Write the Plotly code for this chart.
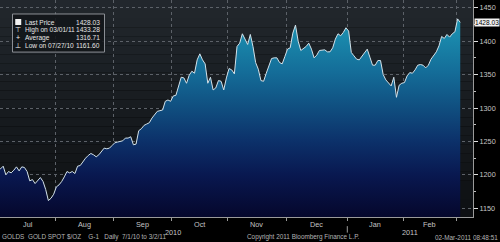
import numpy as np
import pandas as pd
import plotly.graph_objects as go

# ---------------- data ----------------
dates = pd.bdate_range("2010-07-01", "2011-03-02")

jul = [1207, 1209, 1213, 1200, 1205, 1203, 1207, 1212, 1206, 1212, 1211, 1205, 1191, 1193, 1187,
       1192, 1196, 1190, 1178, 1161.6, 1165, 1171]
aug = [1182, 1185, 1190, 1197, 1205, 1203, 1205, 1202, 1213, 1214, 1220, 1225, 1229, 1232, 1230,
       1227, 1230, 1236, 1240, 1239, 1240, 1244]
sep = [1248, 1249, 1250, 1251, 1255, 1255, 1257, 1245, 1246, 1266, 1269, 1274, 1276, 1278, 1285,
       1291, 1295, 1296, 1297, 1310, 1312, 1310]
oct_ = [1318, 1319, 1334, 1346, 1345, 1337, 1349, 1355, 1352, 1372, 1381, 1372, 1366, 1337, 1346,
        1327, 1330, 1341, 1340, 1327, 1345]
nov = [1359, 1357, 1351, 1392, 1397, 1411, 1403, 1395, 1410, 1392, 1368, 1358, 1341, 1340, 1352,
       1362, 1374, 1375, 1375, 1368, 1366, 1377]
dec = [1388, 1390, 1412, 1424, 1400, 1386, 1389, 1392, 1397, 1388, 1375, 1379, 1386, 1387, 1387,
       1384, 1384, 1390, 1403, 1411, 1408, 1413, 1420]
jan = [1415, 1383, 1378, 1373, 1372, 1377, 1382, 1388, 1376, 1364, 1364, 1371, 1371, 1350, 1342,
       1337, 1333, 1346, 1316, 1334, 1337]
feb = [1338, 1348, 1353, 1352, 1357, 1364, 1365, 1364, 1360, 1364, 1373, 1378, 1384, 1393, 1407,
       1404, 1410, 1406, 1411, 1414]
mar = [1433.28, 1428.03]

prices = jul + aug + sep + oct_ + nov + dec + jan + feb + mar

month_labels = ["Jul", "Aug", "Sep", "Oct", "Nov", "Dec", "Jan", "Feb"]
year_labels = ["2010", "2011"]
y_ticks = [1150, 1200, 1250, 1300, 1350, 1400, 1450]

legend_rows = [
    ("", "Last Price", "1428.03"),
    ("\u22A4", "High on 03/01/11", "1433.28"),
    ("+", "Average", "1316.71"),
    ("\u22A5", "Low on 07/27/10", "1161.60"),
]
footer_left = "GOLDS  GOLD SPOT $/OZ    G-1   Daily  7/1/10 to 3/2/11"
footer_mid = "Copyright 2011 Bloomberg Finance L.P."
footer_right = "02-Mar-2011 08:48:51"

# ---------------- derived positions ----------------
idx = np.arange(len(dates))
months = pd.Series(dates.to_period("M"))
starts = [int(i) for i in np.where(months.ne(months.shift()).values)[0]]
bounds = [s - 0.5 for s in starts[1:]]           # month boundaries (Aug 1 ... Mar 1)
X0, X1 = 0.8, 178.8
edges = [X0] + bounds
month_mid = [(edges[k] + edges[k + 1]) / 2 for k in range(len(month_labels))]
jan_b = bounds[5]
year_mid = [(0 + jan_b) / 2, (jan_b + X1) / 2]

FONT = "Liberation Sans, Arial"
TXT = "#c4c4c4"

fig = go.Figure()
fig.add_trace(go.Scatter(
    x=idx, y=prices, mode="lines",
    line=dict(color="#d3e2ea", width=1),
    fill="tozeroy",
    fillgradient=dict(
        type="vertical", start=1137, stop=1436,
        colorscale=[[0.0, "#05072c"], [0.21, "#091850"], [0.38, "#0c316a"],
                    [0.55, "#104f80"], [0.72, "#146c98"], [0.88, "#1985a9"], [1.0, "#1e95b2"]],
    ),
    hoverinfo="skip", showlegend=False,
))

shapes = []
# background gradient bands in plot area
n = 24
top = np.array([0x22, 0x27, 0x2d])
bot = np.array([0x0e, 0x10, 0x13])
for k in range(n):
    t = k / (n - 1)
    c = (top * (1 - t) + bot * t).astype(int)
    shapes.append(dict(type="rect", xref="paper", yref="paper", x0=0, x1=1,
                       y0=1 - (k + 1) / n, y1=1 - k / n, layer="below",
                       line=dict(width=0), fillcolor="rgb(%d,%d,%d)" % tuple(c)))
# legend box
shapes.append(dict(type="rect", xref="paper", yref="paper", x0=0.0264, x1=0.2209,
                   y0=0.760, y1=0.9355, line=dict(color="#8c9096", width=1),
                   fillcolor="rgba(18,21,25,0.85)", layer="above"))
# last-price legend square
shapes.append(dict(type="rect", xref="paper", yref="paper", x0=0.0322, x1=0.0449,
                   y0=0.8848, y1=0.9124, line=dict(width=0), fillcolor="#f2f2f2", layer="above"))
# year separator
shapes.append(dict(type="line", xref="x", yref="paper", x0=jan_b, x1=jan_b,
                   y0=-0.042, y1=-0.072, line=dict(color="#9a9a9a", width=1)))

ann = []
for lab, xm in zip(month_labels, month_mid):
    ann.append(dict(x=xm, y=-0.004, xref="x", yref="paper", text=lab, showarrow=False,
                    yanchor="top", font=dict(family=FONT, size=7.3, color=TXT)))
for lab, xm in zip(year_labels, year_mid):
    ann.append(dict(x=xm, y=-0.04, xref="x", yref="paper", text=lab, showarrow=False,
                    yanchor="top", font=dict(family=FONT, size=7.3, color=TXT)))
fy = -0.094
ann.append(dict(x=0, y=fy, xref="paper", yref="paper", text=footer_left.replace(" ", "&nbsp;"),
                showarrow=False, xanchor="left", yanchor="middle",
                font=dict(family=FONT, size=6.4, color="#b4b4b4")))
ann.append(dict(x=0.641, y=fy, xref="paper", yref="paper", text=footer_mid, showarrow=False,
                xanchor="center", yanchor="middle", font=dict(family=FONT, size=6.4, color="#b4b4b4")))
ann.append(dict(x=500 / 473, y=fy, xref="paper", yref="paper", text=footer_right, showarrow=False,
                xanchor="right", yanchor="middle", font=dict(family=FONT, size=6.4, color="#b4b4b4")))
# legend rows
row_y = [0.8986, 0.8631, 0.8263, 0.7894]
for (sym, lab, val), yy in zip(legend_rows, row_y):
    if sym:
        ann.append(dict(x=0.0385, y=yy, xref="paper", yref="paper", text=sym, showarrow=False,
                        xanchor="center", yanchor="middle",
                        font=dict(family=FONT, size=7, color="#f0f0f0")))
    ann.append(dict(x=0.0486, y=yy, xref="paper", yref="paper", text=lab, showarrow=False,
                    xanchor="left", yanchor="middle", font=dict(family=FONT, size=6.6, color="#e6e6e6")))
    ann.append(dict(x=0.2146, y=yy, xref="paper", yref="paper", text=val, showarrow=False,
                    xanchor="right", yanchor="middle", font=dict(family=FONT, size=6.6, color="#e6e6e6")))
# last price tag
ann.append(dict(x=1, y=prices[-1], xref="paper", yref="y", text=legend_rows[0][2], showarrow=False,
                xanchor="left", yanchor="middle", xshift=1, bgcolor="#f2f2f2", borderpad=0,
                font=dict(family=FONT, size=6.6, color="#000000")))

fig.update_layout(
    width=500, height=242,
    margin=dict(l=0, r=27, t=0, b=25),
    paper_bgcolor="#000000", plot_bgcolor="rgba(0,0,0,0)",
    shapes=shapes, annotations=ann, showlegend=False,
    xaxis=dict(range=[X0, X1], tickvals=bounds, showticklabels=False,
               showgrid=True, gridcolor="#5c6168", griddash="dot", gridwidth=1,
               ticks="outside", ticklen=3, tickcolor="#9a9a9a",
               showline=True, linecolor="#9a9a9a", linewidth=1, zeroline=False),
    yaxis=dict(range=[1137, 1461.5], side="right", tickvals=y_ticks,
               showgrid=True, gridcolor="#5c6168", griddash="dot", gridwidth=1,
               ticks="outside", ticklen=4, tickcolor="#e0e0e0",
               minor=dict(ticks="outside", ticklen=2, dtick=25, tick0=1125, tickcolor="#c0c0c0", showgrid=False),
               tickfont=dict(family=FONT, size=7.3, color=TXT),
               showline=True, linecolor="#9a9a9a", linewidth=1, zeroline=False),
)

fig.write_html("out.html")
